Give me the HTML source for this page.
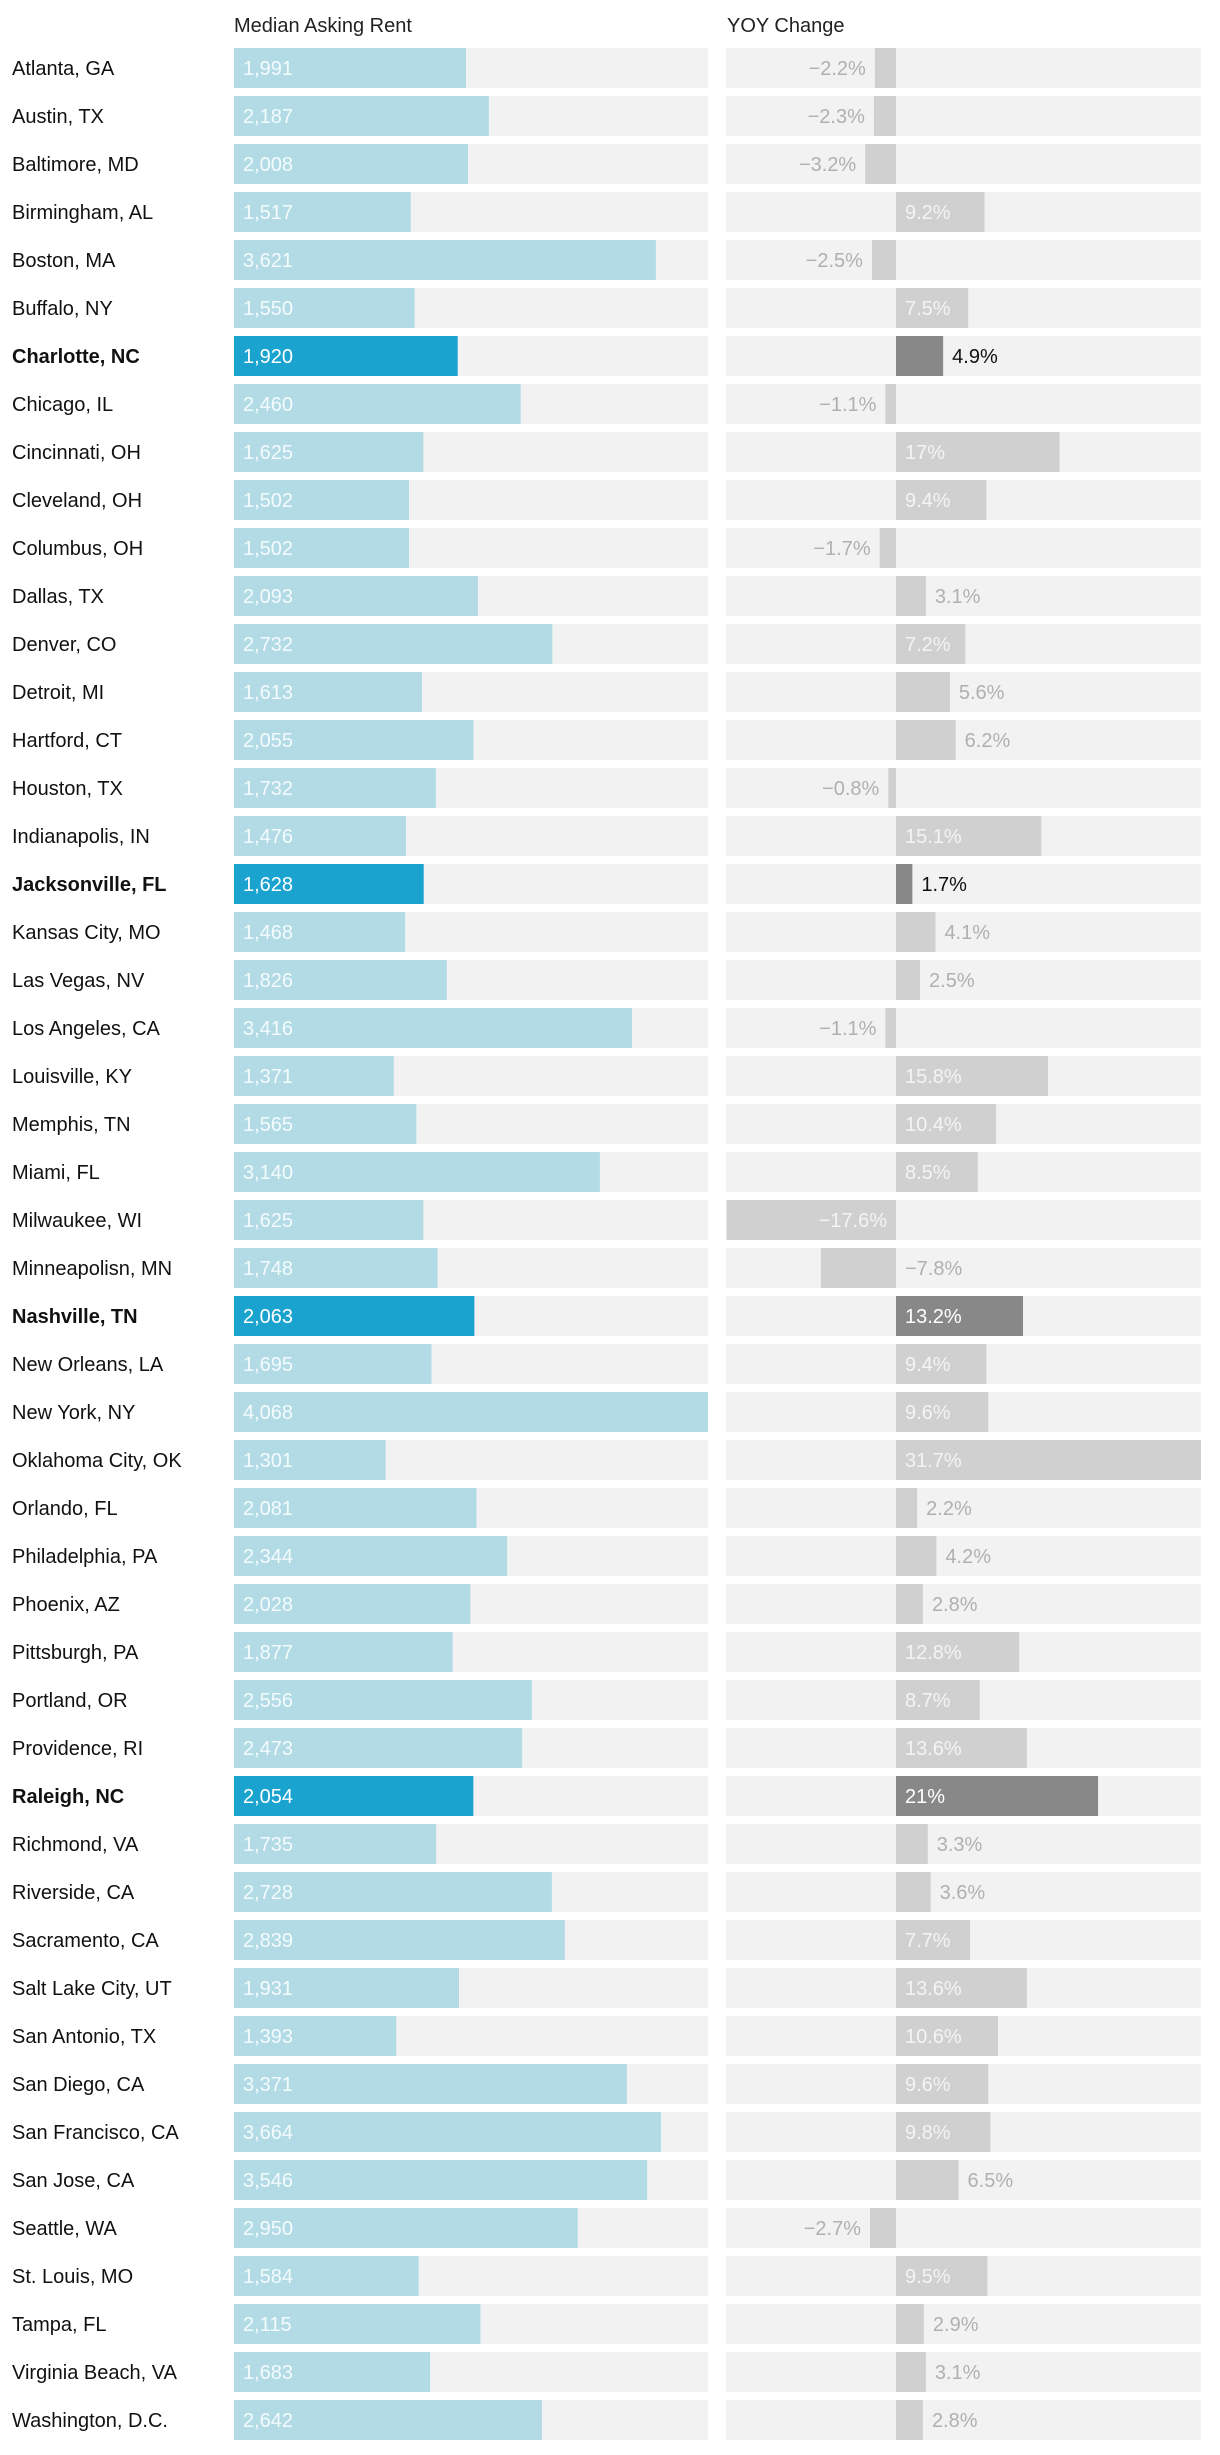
<!DOCTYPE html>
<html><head><meta charset="utf-8"><style>
body{margin:0;background:#fff;font-family:"Liberation Sans",sans-serif;}
svg text{font-family:"Liberation Sans",sans-serif;}
</style></head><body>
<svg id="chart" width="1220" height="2450" xmlns="http://www.w3.org/2000/svg">
<text x="234" y="32" font-size="20" fill="#222">Median Asking Rent</text>
<text x="727" y="32" font-size="20" fill="#222">YOY Change</text>
</svg>
<script>
const cities=["Atlanta, GA","Austin, TX","Baltimore, MD","Birmingham, AL","Boston, MA","Buffalo, NY","Charlotte, NC","Chicago, IL","Cincinnati, OH","Cleveland, OH","Columbus, OH","Dallas, TX","Denver, CO","Detroit, MI","Hartford, CT","Houston, TX","Indianapolis, IN","Jacksonville, FL","Kansas City, MO","Las Vegas, NV","Los Angeles, CA","Louisville, KY","Memphis, TN","Miami, FL","Milwaukee, WI","Minneapolisn, MN","Nashville, TN","New Orleans, LA","New York, NY","Oklahoma City, OK","Orlando, FL","Philadelphia, PA","Phoenix, AZ","Pittsburgh, PA","Portland, OR","Providence, RI","Raleigh, NC","Richmond, VA","Riverside, CA","Sacramento, CA","Salt Lake City, UT","San Antonio, TX","San Diego, CA","San Francisco, CA","San Jose, CA","Seattle, WA","St. Louis, MO","Tampa, FL","Virginia Beach, VA","Washington, D.C."];
const rents=[1991,2187,2008,1517,3621,1550,1920,2460,1625,1502,1502,2093,2732,1613,2055,1732,1476,1628,1468,1826,3416,1371,1565,3140,1625,1748,2063,1695,4068,1301,2081,2344,2028,1877,2556,2473,2054,1735,2728,2839,1931,1393,3371,3664,3546,2950,1584,2115,1683,2642];
const yoy=[-2.2,-2.3,-3.2,9.2,-2.5,7.5,4.9,-1.1,17,9.4,-1.7,3.1,7.2,5.6,6.2,-0.8,15.1,1.7,4.1,2.5,-1.1,15.8,10.4,8.5,-17.6,-7.8,13.2,9.4,9.6,31.7,2.2,4.2,2.8,12.8,8.7,13.6,21,3.3,3.6,7.7,13.6,10.6,9.6,9.8,6.5,-2.7,9.5,2.9,3.1,2.8];
const highlighted=["Charlotte, NC","Jacksonville, FL","Nashville, TN","Raleigh, NC"];
const L0=234,L1=708,R0=726,R1=1201,Z=896,Y0=48,PITCH=48,H=40;
const rx=v=>L0+(L1-L0)*v/4068;
const yx=v=>Z+(R1-Z)*v/31.7;
const svg=document.getElementById('chart');
const NS='http://www.w3.org/2000/svg';
function mk(tag,a,txt){const e=document.createElementNS(NS,tag);for(const k in a)e.setAttribute(k,a[k]);if(txt!==undefined)e.textContent=txt;svg.appendChild(e);return e;}
cities.forEach((c,i)=>{
  const y=Y0+i*PITCH,hl=highlighted.includes(c),cy=y+H/2+7;
  let e=mk('text',{x:12,y:cy,'font-size':20,fill:'#111','font-weight':hl?'bold':'normal'},c);
  
  
  e=mk('rect',{x:L0,y:y,width:L1-L0,height:H,fill:'#f2f2f2'});
  
  
  e=mk('rect',{x:L0,y:y,width:rx(rents[i])-L0,height:H,fill:hl?'#1ba3d0':'#b2dbe6'});
  
  
  e=mk('text',{x:L0+9,y:cy,'font-size':20,fill:hl?'#ffffff':'#f4fbfd'},rents[i].toLocaleString('en-US'));
  
  
  e=mk('rect',{x:R0,y:y,width:R1-R0,height:H,fill:'#f2f2f2'});
  
  
  const v=yoy[i],x=yx(v),bx=Math.min(x,Z),w=Math.abs(x-Z);
  e=mk('rect',{x:bx,y:y,width:w,height:H,fill:hl?'#888888':'#d0d0d0'});
  
  
  const lbl=(v<0?'\u2212'+Math.abs(v):String(v))+'%';
  let tx,anchor='start',col;
  if(v>=0){
    if(w>65){tx=Z+9;col=hl?'#fff':'#f4f4f4';}
    else{tx=x+9;col=hl?'#111':'#b0b0b0';}
  }else{
    if(w>100){tx=Z-9;anchor='end';col='#f4f4f4';}
    else if(w>60){tx=Z+9;col='#b0b0b0';}
    else{tx=x-9;anchor='end';col='#b0b0b0';}
  }
  e=mk('text',{x:tx,y:cy,'font-size':20,fill:col,'text-anchor':anchor},lbl);
  
  
});
</script>
</body></html>
